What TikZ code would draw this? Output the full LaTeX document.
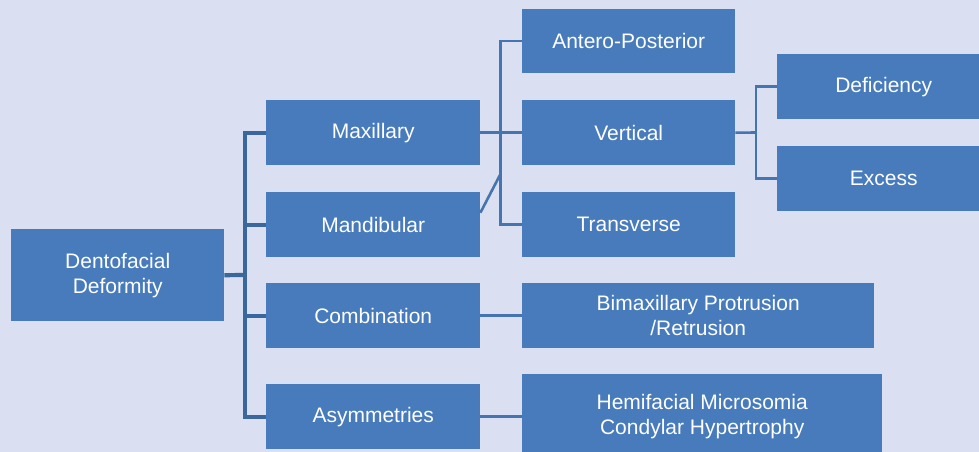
\documentclass[tikz,border=0pt]{standalone}
\usepackage{fontspec}
\setmainfont{Liberation Sans}
\usetikzlibrary{positioning,calc}
\definecolor{bgc}{HTML}{DAE0F1}
\definecolor{boxc}{HTML}{477BBC}
\definecolor{trunkc}{HTML}{3A689C}
\definecolor{linec}{HTML}{4674AE}
\tikzset{
  blok/.style={rectangle, fill=boxc, text=white, anchor=north west, inner sep=0pt,
    align=center, font=\fontsize{21}{25}\selectfont},
  trunk/.style={draw=trunkc, line width=4.2pt},
  tonk/.style={draw=linec, line width=2.6pt}
}
\begin{document}
\begin{tikzpicture}[x=1pt, y=-1pt]
    \fill[bgc] (0,0) rectangle (979,452);
    \useasboundingbox (0,0) rectangle (979,452);

    % Блоки
    \node[blok, minimum width=213pt, minimum height=92pt] (dento) at (11,229) {Dentofacial\\Deformity};
    \node[blok, minimum width=214pt, minimum height=65pt] (maxi) at (266,100) {Maxillary};
    \node[blok, minimum width=214pt, minimum height=65pt] (mandi) at (266,192) {Mandibular};
    \node[blok, minimum width=214pt, minimum height=65pt] (combi) at (266,283) {Combination};
    \node[blok, minimum width=214pt, minimum height=65pt] (asym) at (266,384) {Asymmetries};

    \node[blok, minimum width=213pt, minimum height=64pt] (antero) at (522,9) {Antero-Posterior};
    \node[blok, minimum width=213pt, minimum height=65pt] (vert) at (522,100) {Vertical};
    \node[blok, minimum width=213pt, minimum height=65pt] (trans) at (522,192) {Transverse};
    \node[blok, minimum width=213pt, minimum height=65pt] (defi) at (777,54) {Deficiency};
    \node[blok, minimum width=213pt, minimum height=65pt] (exc) at (777,146) {Excess};
    \node[blok, minimum width=352pt, minimum height=65pt] (bimax) at (522,283) {Bimaxillary Protrusion\\/Retrusion};
    \node[blok, minimum width=360pt, minimum height=85pt] (hemi) at (522,374) {Hemifacial Microsomia\\Condylar Hypertrophy};

    % Ствол
    \coordinate (tk) at (245,275);
    \draw[trunk] (dento.east) -- (tk);
    \foreach \n in {maxi,mandi,combi,asym}
        \draw[trunk] (\n.west) -| (tk);

    % Ветви
    \coordinate (mx) at (500.5,132.5);
    \coordinate (mj) at (500.5,174);
    \draw[tonk] (maxi.east) -- (vert.west);
    \draw[tonk] (antero.west) -| (mx);
    \draw[tonk] (trans.west) -| (mx);
    \draw[tonk] ([yshift=12pt]mandi.east) -- (mj);

    \coordinate (vx) at (756,132.5);
    \draw[tonk] (vert.east) -- (vx);
    \draw[tonk] (defi.west) -| (vx);
    \draw[tonk] (exc.west) -| (vx);

    \draw[tonk] (combi.east) -- (bimax.west);
    \draw[tonk] (asym.east) -- (hemi.west);
\end{tikzpicture}
\end{document}
